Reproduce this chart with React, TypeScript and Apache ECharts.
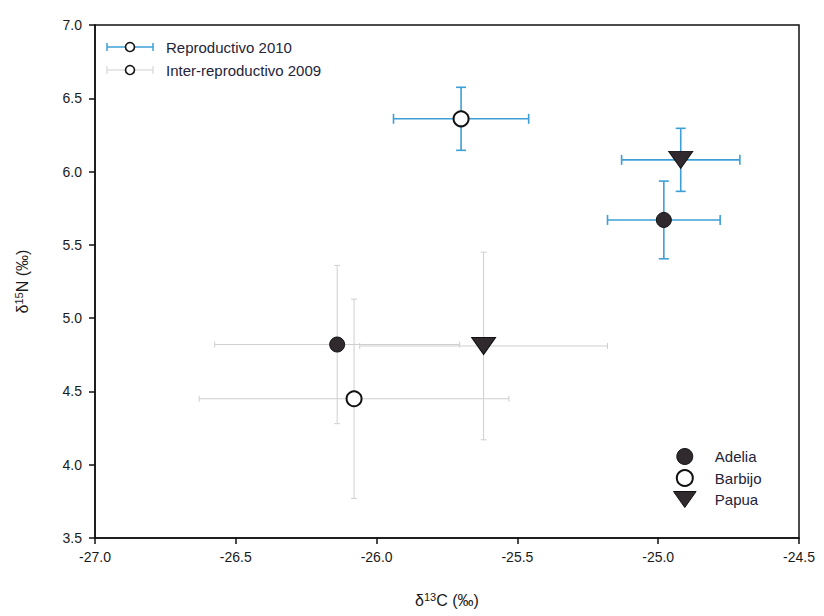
import React, { useEffect, useRef } from "react";
import * as echarts from "echarts";

// Species, one marker style each
const species = ["Adelia", "Barbijo", "Papua"];

// Reproductive season 2010: means and standard deviations (‰)
const repro2010C = [-24.98, -25.7, -24.92];
const repro2010N = [5.67, 6.36, 6.08];
const repro2010CErr = [0.2, 0.24, 0.21];
const repro2010NErr = [0.265, 0.215, 0.215];

// Inter-reproductive season 2009
const inter2009C = [-26.14, -26.08, -25.62];
const inter2009N = [4.82, 4.45, 4.81];
const inter2009CErr = [0.435, 0.55, 0.44];
const inter2009NErr = [0.54, 0.68, 0.64];

// Axis ticks
const xTicks = ["-27.0", "-26.5", "-26.0", "-25.5", "-25.0", "-24.5"];
const yTicks = ["3.5", "4.0", "4.5", "5.0", "5.5", "6.0", "6.5", "7.0"];

const seasonNames = ["Reproductivo 2010", "Inter-reproductivo 2009"];
const seasonColors = ["#3d9fd6", "#cfcfcf"];

const FONT = "'Liberation Sans', Arial, sans-serif";
const TRIANGLE = "path://M0,0 L24,0 L12,17 Z";

const markerStyles: Record<string, any> = {
  Adelia: { symbol: "circle", size: 15, fill: "#302a2e", border: "#111", bw: 1 },
  Barbijo: { symbol: "circle", size: 15, fill: "#ffffff", border: "#111", bw: 2 },
  Papua: { symbol: TRIANGLE, size: [24, 17], fill: "#302a2e", border: "#111", bw: 1 },
};

function errorBarSeries(name: string, color: string, width: number, cap: number, xs: number[], ys: number[], xe: number[], ye: number[]) {
  return {
    type: "custom",
    name,
    z: 1,
    silent: true,
    data: xs.map((x, i) => [x, ys[i], xe[i], ye[i]]),
    renderItem: (_params: any, api: any) => {
      const x = api.value(0);
      const y = api.value(1);
      const ex = api.value(2);
      const ey = api.value(3);
      const l = api.coord([x - ex, y]);
      const r = api.coord([x + ex, y]);
      const t = api.coord([x, y + ey]);
      const b = api.coord([x, y - ey]);
      const style = { stroke: color, lineWidth: width };
      const seg = (x1: number, y1: number, x2: number, y2: number) => ({
        type: "line",
        shape: { x1, y1, x2, y2 },
        style,
      });
      return {
        type: "group",
        children: [
          seg(l[0], l[1], r[0], r[1]),
          seg(l[0], l[1] - cap, l[0], l[1] + cap),
          seg(r[0], r[1] - cap, r[0], r[1] + cap),
          seg(t[0], t[1], b[0], b[1]),
          seg(t[0] - cap, t[1], t[0] + cap, t[1]),
          seg(b[0] - cap, b[1], b[0] + cap, b[1]),
        ],
      };
    },
  };
}

function seasonLegend(row: number, color: string, width: number, label: string) {
  const y = 47 + row * 23;
  const x0 = 107;
  const x1 = 153;
  const cx = 130;
  const cap = 4;
  const style = { stroke: color, lineWidth: width };
  return {
    type: "group",
    children: [
      { type: "line", shape: { x1: x0, y1: y, x2: x1, y2: y }, style },
      { type: "line", shape: { x1: x0, y1: y - cap, x2: x0, y2: y + cap }, style },
      { type: "line", shape: { x1: x1, y1: y - cap, x2: x1, y2: y + cap }, style },
      { type: "circle", shape: { cx, cy: y, r: 4.5 }, style: { fill: "#fff", stroke: "#111", lineWidth: 1.6 } },
      {
        type: "text",
        x: 166,
        y,
        style: { text: label, fill: "#24243a", font: `15px ${FONT}`, textVerticalAlign: "middle" },
      },
    ],
  };
}

export default function App() {
  const ref = useRef<HTMLDivElement>(null);

  useEffect(() => {
    document.body.style.margin = "0";
    const chart = echarts.init(ref.current!, null, { renderer: "svg" });

    const scatterSeries = species.map((sp, i) => {
      const m = markerStyles[sp];
      return {
        type: "scatter",
        name: sp,
        z: 3,
        symbol: m.symbol,
        symbolSize: m.size,
        itemStyle: { color: m.fill, borderColor: m.border, borderWidth: m.bw, opacity: 1 },
        data: [
          [repro2010C[i], repro2010N[i]],
          [inter2009C[i], inter2009N[i]],
        ],
      };
    });

    const nameRich = {
      d: { fontFamily: FONT, fontSize: 16, color: "#1a1a1a" },
      s: { fontFamily: FONT, fontSize: 11, color: "#1a1a1a", verticalAlign: "top", padding: [0, 0, 8, 0] },
    };

    chart.setOption({
      animation: false,
      backgroundColor: "#ffffff",
      grid: {
        left: 95,
        right: 25,
        top: 25,
        bottom: 78,
        show: true,
        borderColor: "#111",
        borderWidth: 1.5,
      },
      xAxis: {
        type: "value",
        min: -27,
        max: -24.5,
        interval: 0.5,
        name: "{d|δ}{s|13}{d|C (‰)}",
        nameLocation: "middle",
        nameGap: 53,
        nameTextStyle: { rich: nameRich },
        axisLine: { show: true, lineStyle: { color: "#111", width: 1.5 } },
        axisTick: { show: true, inside: false, length: 6, lineStyle: { color: "#111", width: 1.5 } },
        axisLabel: {
          margin: 12,
          fontFamily: FONT,
          fontSize: 14,
          color: "#1a1a1a",
          formatter: (v: number) => xTicks.find((t) => Math.abs(parseFloat(t) - v) < 1e-6) ?? "",
        },
        splitLine: { show: false },
      },
      yAxis: {
        type: "value",
        min: 3.5,
        max: 7,
        interval: 0.5,
        name: "{d|δ}{s|15}{d|N (‰)}",
        nameLocation: "middle",
        nameGap: 63,
        nameRotate: 90,
        nameTextStyle: { rich: nameRich },
        axisLine: { show: true, lineStyle: { color: "#111", width: 1.5 } },
        axisTick: { show: true, inside: false, length: 6, lineStyle: { color: "#111", width: 1.5 } },
        axisLabel: {
          margin: 13,
          fontFamily: FONT,
          fontSize: 14,
          color: "#1a1a1a",
          formatter: (v: number) => yTicks.find((t) => Math.abs(parseFloat(t) - v) < 1e-6) ?? "",
        },
        splitLine: { show: false },
      },
      legend: {
        orient: "vertical",
        left: 668,
        top: 443,
        itemGap: 4,
        itemWidth: 24,
        itemHeight: 16,
        selectedMode: false,
        textStyle: { fontFamily: FONT, fontSize: 15, color: "#24243a", padding: [0, 0, 0, 13] },
        data: species.map((sp) => {
          const m = markerStyles[sp];
          return {
            name: sp,
            icon: m.symbol,
            itemStyle: { color: m.fill, borderColor: m.border, borderWidth: m.bw },
          };
        }),
      },
      graphic: [
        seasonLegend(0, seasonColors[0], 1.5, seasonNames[0]),
        seasonLegend(1, seasonColors[1], 1, seasonNames[1]),
      ],
      series: [
        errorBarSeries(seasonNames[1], seasonColors[1], 1, 3, inter2009C, inter2009N, inter2009CErr, inter2009NErr),
        errorBarSeries(seasonNames[0], seasonColors[0], 1.6, 5, repro2010C, repro2010N, repro2010CErr, repro2010NErr),
        ...scatterSeries,
      ],
    });

    return () => chart.dispose();
  }, []);

  return <div ref={ref} style={{ width: 824, height: 616 }} />;
}
